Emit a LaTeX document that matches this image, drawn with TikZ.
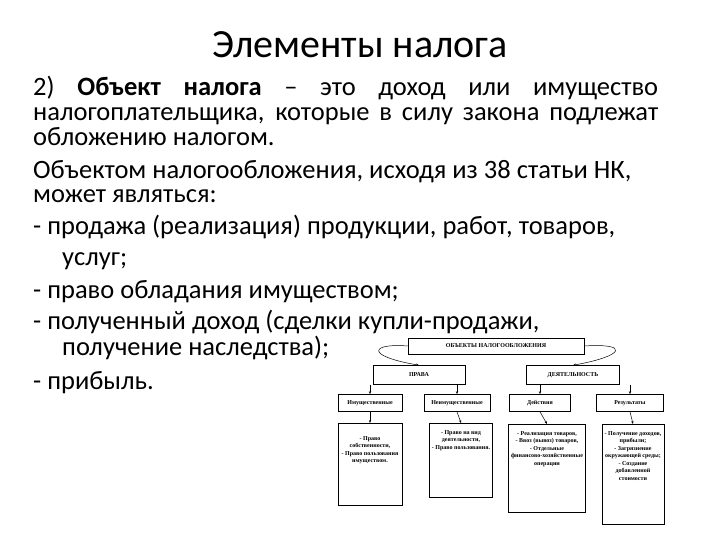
\documentclass[tikz,border=0pt]{standalone}
\usetikzlibrary{arrows.meta}
\usepackage{fontspec}
\setmainfont{Carlito}
\newfontfamily\dfont{Liberation Serif}
\newcommand{\tbox}[3]{\parbox[t][#2pt][t]{#1pt}{\centering\vspace{6pt}#3}}
\begin{document}
\begin{tikzpicture}[x=1pt,y=-1pt,
  line/.style={anchor=base west,inner sep=0,font=\fontsize{26.5}{25}\selectfont},
  bx/.style={draw,line width=0.6pt,inner sep=1pt,align=center,font=\dfont\bfseries\fontsize{6}{7.5}\selectfont},
  ar/.style={-{Stealth[length=3pt]},line width=0.5pt}]
\useasboundingbox (0,0) rectangle (720,540);
\node[anchor=base,inner sep=0,font=\fontsize{40}{42}\selectfont] (title) at (360,58) {Элементы налога};
\node[line] (l1) at (33,96) {\makebox[625pt][s]{2) \textbf{Объект налога} – это доход или имущество}};
\node[line] (l2) at (33,121) {\makebox[625pt][s]{налогоплательщика, которые в силу закона подлежат}};
\node[line] (l3) at (33,146) {обложению налогом.};
\node[line] (l4) at (33,179) {Объектом налогообложения, исходя из 38 статьи НК,};
\node[line] (l5) at (33,203) {может являться:};
\node[line] (l6) at (33,235) {- продажа (реализация) продукции, работ, товаров,};
\node[line] (l7) at (62,265) {услуг;};
\node[line] (l8) at (33,298) {- право обладания имуществом;};
\node[line] (l9) at (33,329) {- полученный доход (сделки купли-продажи,};
\node[line] (l10) at (62,355) {получение наследства);};
\node[line] (l11) at (33,389) {- прибыль.};
% diagram
\node[bx,minimum width=176pt,minimum height=16pt,fill=white] (top) at (496,346) {ОБЪЕКТЫ НАЛОГООБЛОЖЕНИЯ};
\node[bx,minimum width=92pt,minimum height=19pt] (pr) at (419,375) {ПРАВА};
\node[bx,minimum width=93pt,minimum height=19pt] (de) at (573,375) {ДЕЯТЕЛЬНОСТЬ};
\node[bx,minimum width=64pt,minimum height=17pt] (a) at (370,403) {Имущественные};
\node[bx,minimum width=66pt,minimum height=17pt] (b) at (457,403) {Неимущественные};
\node[bx,minimum width=61pt,minimum height=17pt] (c) at (540,403) {Действия};
\node[bx,minimum width=67pt,minimum height=17pt] (d) at (630,403) {Результаты};
\node[bx,anchor=north] (a2) at (370,423) {\tbox{62}{80}{\vspace{6pt}- Право собственности,\\- Право пользования имуществом.}};
\node[bx,anchor=north] (b2) at (461,423) {\tbox{61}{72}{- Право на вид деятельности,\\- Право пользования.}};
\node[bx,anchor=north] (c2) at (547,424) {\tbox{75}{86}{- Реализация товаров,\\- Ввоз (вывоз) товаров,\\- Отдельные финансово-хозяйственные операции}};
\node[bx,anchor=north] (d2) at (633,424) {\tbox{60}{98}{- Получение доходов, прибыли;\\- Загрязнение окружающей среды;\\- Создание добавленной стоимости}};
\draw[ar] (top.west) .. controls (370,343) and (365,356) .. (pr.north);
\draw[ar] (top.east) .. controls (630,343) and (625,356) .. (de.north);
\draw[ar] (pr.south -| a.north) -- (a.north);
\draw[ar] (pr.south -| b.north) -- (b.north);
\draw[ar] (de.south -| c.north) -- (c.north);
\draw[ar] (de.south -| d.north) -- (d.north);
\draw[ar] (a.south) -- (a2.north);
\draw[ar] (b.south) -- (b2.north);
\draw[ar] (c.south) -- (c2.north);
\draw[ar] (d.south) -- (d2.north);
\end{tikzpicture}
\end{document}
